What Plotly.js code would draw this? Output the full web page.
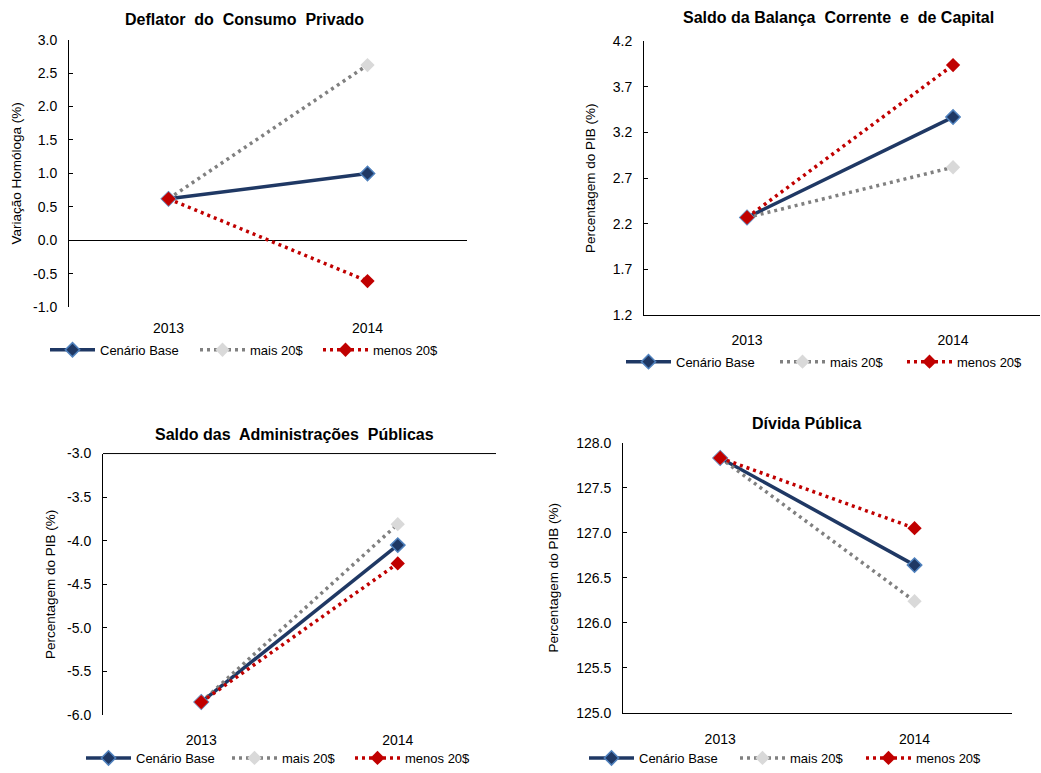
<!DOCTYPE html>
<html><head><meta charset="utf-8">
<script src="https://cdn.plot.ly/plotly-3.0.1.min.js"></script>
<style>html,body{margin:0;padding:0;background:#fff}#chart{width:1041px;height:773px}</style>
</head><body><div id="chart"></div>
<script>
const years = ['2013', '2014'];
const seriesNames = ['Cenário Base', 'mais 20$', 'menos 20$'];

const deflatorBase = [0.62, 1.00];
const deflatorMais = [0.62, 2.62];
const deflatorMenos = [0.62, -0.61];

const balancaBase = [2.27, 3.37];
const balancaMais = [2.27, 2.82];
const balancaMenos = [2.27, 3.94];

const saldoBase = [-5.85, -4.05];
const saldoMais = [-5.85, -3.81];
const saldoMenos = [-5.85, -4.26];

const dividaBase = [127.83, 126.64];
const dividaMais = [127.83, 126.24];
const dividaMenos = [127.83, 127.05];

const deflatorTicks = ['-1.0', '-0.5', '0.0', '0.5', '1.0', '1.5', '2.0', '2.5', '3.0'];
const balancaTicks = ['1.2', '1.7', '2.2', '2.7', '3.2', '3.7', '4.2'];
const saldoTicks = ['-6.0', '-5.5', '-5.0', '-4.5', '-4.0', '-3.5', '-3.0'];
const dividaTicks = ['125.0', '125.5', '126.0', '126.5', '127.0', '127.5', '128.0'];

const chartTitles = ['Deflator  do  Consumo  Privado', 'Saldo da Balança  Corrente  e  de Capital', 'Saldo das  Administrações  Públicas', 'Dívida Pública'];
const yTitles = ['Variação Homóloga (%)', 'Percentagem do PIB (%)', 'Percentagem do PIB (%)', 'Percentagem do PIB (%)'];

const FONT = 'Liberation Sans, Arial, sans-serif';
const styles = [
  {line: {color: '#1F3864', width: 3.5}, marker: {symbol: 'diamond', size: 11, color: '#1F3864', line: {color: '#4F81BD', width: 1.5}}},
  {line: {color: '#808080', width: 3.5, dash: '3px,4px'}, marker: {symbol: 'diamond', size: 11, color: '#D9D9D9', line: {width: 0}}},
  {line: {color: '#C00000', width: 3.5, dash: '3px,4px'}, marker: {symbol: 'diamond', size: 11, color: '#C00000', line: {width: 0}}}
];
const data = [
  [deflatorBase, deflatorMais, deflatorMenos],
  [balancaBase, balancaMais, balancaMenos],
  [saldoBase, saldoMais, saldoMenos],
  [dividaBase, dividaMais, dividaMenos]
];
const tickSets = [deflatorTicks, balancaTicks, saldoTicks, dividaTicks];

const legendKey = k => (k === 0 ? 'legend' : 'legend' + (k + 1));

const traces = [];
data.forEach((set, i) => {
  set.forEach((vals, j) => {
    traces.push({
      type: 'scatter', mode: 'lines+markers',
      x: years, y: vals, name: seriesNames[j],
      xaxis: 'x' + (i + 1), yaxis: 'y' + (i + 1),
      legend: legendKey(i * 3 + j),
      line: styles[j].line, marker: styles[j].marker,
      hoverinfo: 'x+y+name'
    });
  });
});

const W = 1041, H = 773;
const px = v => v / W;
const py = v => 1 - v / H;

// plot boxes in pixels: [left, right, top, bottom]
const boxes = [
  [69, 467, 40, 310],
  [644, 1040, 41.7, 318],
  [103, 496, 457.7, 721.7],
  [623, 1011.7, 446.7, 719.3]
];
const xRanges = [[-0.5, 1.5], [-0.5, 1.422], [-0.5, 1.5], [-0.5, 1.5]];
const yRanges = [[-1, 3], [1.2, 4.2], [-6, -3], [125, 128]];
const xShowLine = [false, true, false, true];
const yStandoff = [8, 14, 8, 14];
const xLabelStandoff = [11, 12, 15, 13];

const layout = {
  width: W, height: H,
  margin: {l: 0, r: 0, t: 0, b: 0},
  paper_bgcolor: '#fff', plot_bgcolor: 'rgba(0,0,0,0)',
  font: {family: FONT, color: '#000', size: 13},
  showlegend: true,
  annotations: [],
  shapes: []
};

boxes.forEach((b, i) => {
  const n = i + 1;
  layout['xaxis' + n] = {
    domain: [px(b[0]), px(b[1])], anchor: 'y' + n,
    type: 'category', range: xRanges[i], fixedrange: true,
    showgrid: false, zeroline: false,
    showline: xShowLine[i], linecolor: '#000', linewidth: 1,
    ticks: '', ticklabelstandoff: xLabelStandoff[i],
    tickfont: {family: FONT, size: 14, color: '#000'}
  };
  layout['yaxis' + n] = {
    domain: [py(b[3]), py(b[2])], anchor: 'x' + n,
    range: yRanges[i],
    tickmode: 'array', tickvals: tickSets[i].map(Number), ticktext: tickSets[i],
    showgrid: false, zeroline: i === 0, zerolinecolor: '#000', zerolinewidth: 1,
    showline: true, linecolor: '#000', linewidth: 1,
    ticks: 'inside', ticklen: 4, tickcolor: '#000', ticklabelstandoff: 8,
    tickfont: {family: FONT, size: 14, color: '#000'},
    automargin: false, fixedrange: true,
    title: {text: yTitles[i], standoff: yStandoff[i], font: {family: FONT, size: 13.5, color: '#000'}}
  };
});

// top axis line of chart 3 (category axis crosses at -3.0)
layout.shapes.push({type: 'line', xref: 'x3 domain', yref: 'y3 domain', x0: 0, x1: 1, y0: 1, y1: 1, line: {color: '#000', width: 1}});

const titlePos = [[244, 20], [838, 18], [294, 438], [806, 427]];
titlePos.forEach((p, i) => {
  layout.annotations.push({
    text: '<b>' + chartTitles[i] + '</b>', xref: 'paper', yref: 'paper',
    x: px(p[0]), y: py(p[1]), xanchor: 'center', yanchor: 'middle',
    showarrow: false, font: {family: FONT, size: 16, color: '#000'}
  });
});

// legend entry symbol start positions [x, y] in pixels, per chart, per series
const legendPos = [
  [[50, 353], [200, 353], [323, 353]],
  [[626, 365], [780, 365], [907, 365]],
  [[86, 765], [232, 765], [355, 765]],
  [[589, 765], [740, 765], [866, 765]]
];
legendPos.forEach((row, i) => {
  row.forEach((p, j) => {
    layout[legendKey(i * 3 + j)] = {
      orientation: 'h', x: px(p[0] - 5), y: py(p[1]), xanchor: 'left', yanchor: 'middle',
      xref: 'paper', yref: 'paper', bgcolor: 'rgba(0,0,0,0)', borderwidth: 0,
      font: {family: FONT, size: 13, color: '#000'}, itemwidth: 45
    };
  });
});

Plotly.newPlot('chart', traces, layout, {displayModeBar: false, staticPlot: true});
</script>
</body></html>
